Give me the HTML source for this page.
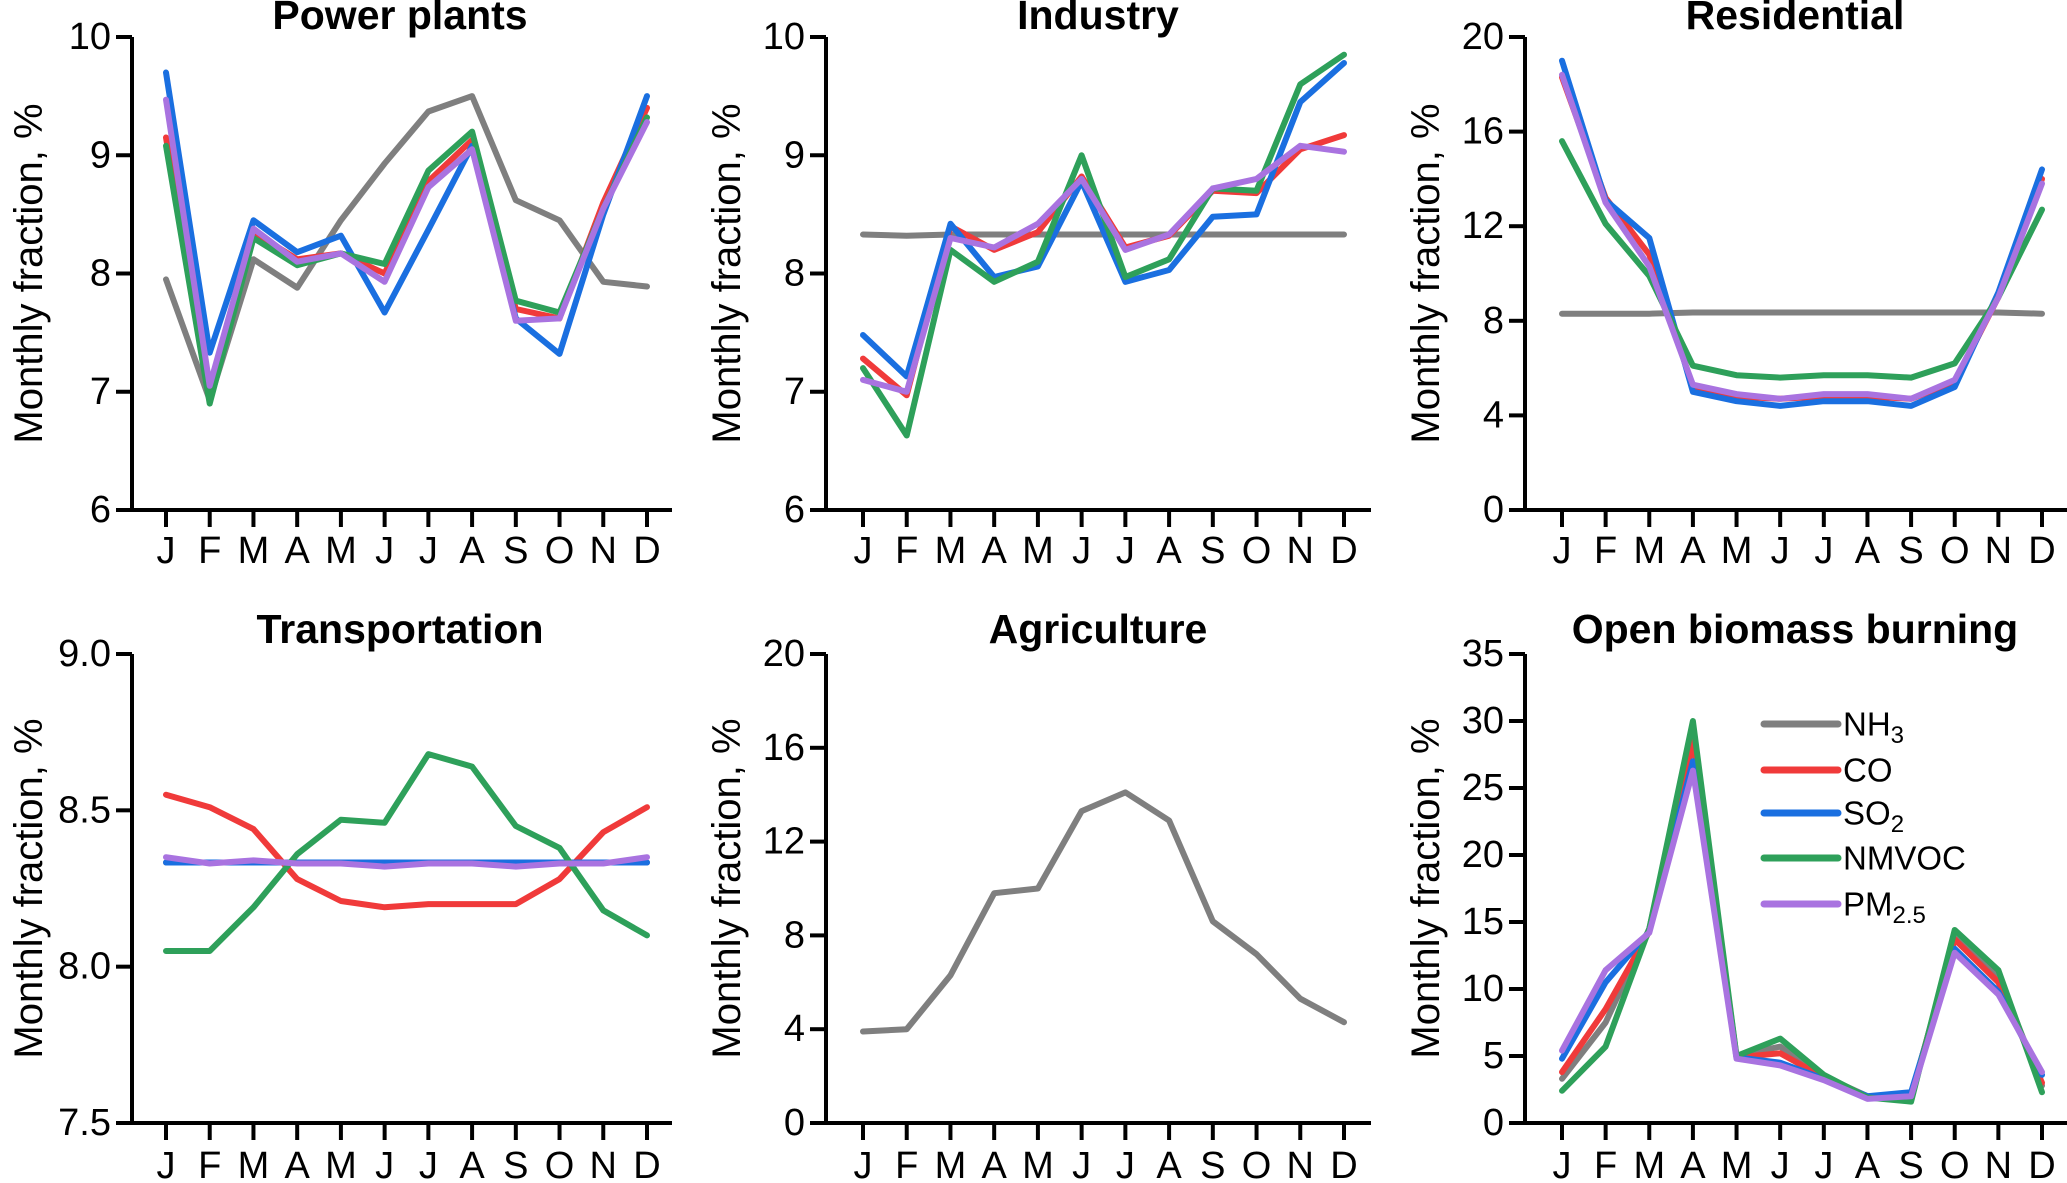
<!DOCTYPE html>
<html><head><meta charset="utf-8">
<style>
html,body{margin:0;padding:0;background:#fff;}
svg{display:block;font-family:"Liberation Sans",Arial,sans-serif;}
</style></head>
<body>
<svg id="fig" width="2067" height="1183" viewBox="0 0 2067 1183"></svg>
<script>
const months = ["J","F","M","A","M","J","J","A","S","O","N","D"];
const speciesNames = ["NH3","CO","SO2","NMVOC","PM2.5"];
const speciesColors = ["#7f7f7f","#f03a3a","#1a6fe0","#2ea05a","#a973e0"];

const powerNH3 = [7.95,6.93,8.12,7.88,8.45,8.93,9.37,9.5,8.62,8.45,7.93,7.89];
const powerCO = [9.15,6.95,8.35,8.12,8.17,8.0,8.78,9.13,7.7,7.62,8.6,9.4];
const powerSO2 = [9.7,7.33,8.45,8.18,8.32,7.67,8.37,9.08,7.62,7.32,8.5,9.5];
const powerNMVOC = [9.08,6.9,8.3,8.07,8.17,8.08,8.87,9.2,7.77,7.67,8.55,9.32];
const powerPM = [9.47,7.05,8.38,8.1,8.17,7.93,8.73,9.05,7.6,7.62,8.55,9.28];

const industryNH3 = [8.33,8.32,8.33,8.33,8.33,8.33,8.33,8.33,8.33,8.33,8.33,8.33];
const industryCO = [7.28,6.97,8.4,8.2,8.35,8.82,8.22,8.32,8.7,8.68,9.05,9.17];
const industrySO2 = [7.48,7.13,8.42,7.97,8.06,8.78,7.93,8.03,8.48,8.5,9.45,9.78];
const industryNMVOC = [7.2,6.63,8.2,7.93,8.1,9.0,7.97,8.12,8.72,8.7,9.6,9.85];
const industryPM = [7.1,7.0,8.3,8.22,8.42,8.8,8.2,8.33,8.72,8.8,9.08,9.03];

const resNH3 = [8.3,8.3,8.3,8.35,8.35,8.35,8.35,8.35,8.35,8.35,8.35,8.3];
const resCO = [18.3,13.2,10.8,5.2,4.8,4.7,4.8,4.8,4.7,5.4,9.0,14.0];
const resSO2 = [19.0,13.1,11.5,5.0,4.6,4.4,4.6,4.6,4.4,5.2,9.2,14.4];
const resNMVOC = [15.6,12.1,9.9,6.1,5.7,5.6,5.7,5.7,5.6,6.2,9.0,12.7];
const resPM = [18.4,13.0,10.3,5.3,4.9,4.7,4.9,4.9,4.7,5.5,9.0,13.8];

const transNH3 = [8.333,8.333,8.333,8.333,8.333,8.333,8.333,8.333,8.333,8.333,8.333,8.333];
const transCO = [8.55,8.51,8.44,8.28,8.21,8.19,8.2,8.2,8.2,8.28,8.43,8.51];
const transSO2 = [8.333,8.333,8.333,8.333,8.333,8.333,8.333,8.333,8.333,8.333,8.333,8.333];
const transNMVOC = [8.05,8.05,8.19,8.36,8.47,8.46,8.68,8.64,8.45,8.38,8.18,8.1];
const transPM = [8.35,8.33,8.34,8.33,8.33,8.32,8.33,8.33,8.32,8.33,8.33,8.35];

const agriNH3 = [3.9,4.0,6.3,9.8,10.0,13.3,14.1,12.9,8.6,7.2,5.3,4.3];

const fireNH3 = [3.3,7.5,14.5,29,5.0,5.7,3.5,2.0,2.0,13.8,11.0,2.8];
const fireCO = [3.8,8.5,14.3,28.5,4.9,5.2,3.4,1.9,2.0,13.7,10.5,3.0];
const fireSO2 = [4.8,10.5,14.3,27,4.9,4.5,3.3,2.0,2.3,13.0,9.8,3.6];
const fireNMVOC = [2.4,5.7,14.5,30,5.0,6.3,3.6,1.9,1.6,14.4,11.4,2.3];
const firePM = [5.4,11.4,14.2,26.3,4.8,4.3,3.2,1.8,2.0,12.7,9.6,3.8];

const powerTicks = ["6","7","8","9","10"];
const industryTicks = ["6","7","8","9","10"];
const resTicks = ["0","4","8","12","16","20"];
const transTicks = ["7.5","8.0","8.5","9.0"];
const agriTicks = ["0","4","8","12","16","20"];
const fireTicks = ["0","5","10","15","20","25","30","35"];

const panels = [
  {name:"power-plants",title:"Power plants",col:0,row:0,ticks:powerTicks,series:[powerNH3,powerCO,powerSO2,powerNMVOC,powerPM]},
  {name:"industry",title:"Industry",col:1,row:0,ticks:industryTicks,series:[industryNH3,industryCO,industrySO2,industryNMVOC,industryPM]},
  {name:"residential",title:"Residential",col:2,row:0,ticks:resTicks,series:[resNH3,resCO,resSO2,resNMVOC,resPM]},
  {name:"transportation",title:"Transportation",col:0,row:1,ticks:transTicks,series:[transNH3,transCO,transSO2,transNMVOC,transPM]},
  {name:"agriculture",title:"Agriculture",col:1,row:1,ticks:agriTicks,series:[agriNH3,null,null,null,null]},
  {name:"open-biomass-burning",title:"Open biomass burning",col:2,row:1,ticks:fireTicks,series:[fireNH3,fireCO,fireSO2,fireNMVOC,firePM],legend:true}
];

const NS="http://www.w3.org/2000/svg";
const svg=document.getElementById('fig');
function mk(tag,attrs,parent){const e=document.createElementNS(NS,tag);for(const k in attrs)e.setAttribute(k,attrs[k]);(parent||svg).appendChild(e);return e;}

const colAxisX=[132,826,1525], colJ=[166,863,1562], colD=[647,1344,2042], colRight=[672,1371,2067];
const rowTop=[37,654], rowBot=[510,1123], rowLab=[551,1166], rowTitle=[16,630];
const titleX=[400,1098,1795], yTitleX=[29,727,1426];

panels.forEach(p=>{
  const g=mk('g',{});
  
  
  const ax=colAxisX[p.col], top=rowTop[p.row], bot=rowBot[p.row];
  const tv=p.ticks.map(Number), vmin=tv[0], vmax=tv[tv.length-1];
  const ys=v=>bot-(v-vmin)/(vmax-vmin)*(bot-top);
  const xs=i=>colJ[p.col]+i*(colD[p.col]-colJ[p.col])/11;
  const t=mk('text',{x:titleX[p.col],y:rowTitle[p.row]+13,'text-anchor':'middle','font-size':41,'font-weight':'bold',fill:'#000'},g);
  t.textContent=p.title;
  
  
  const cy=(top+bot)/2;
  const yt=mk('text',{x:yTitleX[p.col],y:cy,'text-anchor':'middle','dominant-baseline':'central','font-size':40,fill:'#000',transform:`rotate(-90 ${yTitleX[p.col]} ${cy})`},g);
  yt.textContent='Monthly fraction, %';
  
  
  const yAxis=mk('line',{x1:ax,y1:top,x2:ax,y2:bot+2,stroke:'#000','stroke-width':4},g);
  
  
  const xAxis=mk('line',{x1:ax-16,y1:bot,x2:colRight[p.col],y2:bot,stroke:'#000','stroke-width':4},g);
  
  
  p.ticks.forEach(lbl=>{
    const y=ys(Number(lbl));
    mk('line',{x1:ax-16,y1:y,x2:ax,y2:y,stroke:'#000','stroke-width':4},g);
    const tt=mk('text',{x:ax-21,y:y,'text-anchor':'end','dominant-baseline':'central','font-size':38,fill:'#000'},g);
    tt.textContent=lbl;
    
    
  });
  months.forEach((m,i)=>{
    const x=xs(i);
    mk('line',{x1:x,y1:bot,x2:x,y2:bot+17,stroke:'#000','stroke-width':4},g);
    const tt=mk('text',{x:x,y:rowLab[p.row],'text-anchor':'middle','dominant-baseline':'central','font-size':38,fill:'#000'},g);
    tt.textContent=m;
    
    
  });
  p.series.forEach((s,k)=>{
    if(!s)return;
    const pts=s.map((v,i)=>xs(i).toFixed(1)+','+ys(v).toFixed(1)).join(' ');
    const pl=mk('polyline',{points:pts,fill:'none',stroke:speciesColors[k],'stroke-width':6,'stroke-linejoin':'round','stroke-linecap':'round'},g);
    
    
  });
  if(p.legend){
    const lg=mk('g',{},g);
    
    
    const ly=[724,770,813,858,904];
    const labels=[['NH','3'],['CO',''],['SO','2'],['NMVOC',''],['PM','2.5']];
    labels.forEach((l,k)=>{
      const e=mk('g',{},lg);
      
      
      mk('line',{x1:1764,y1:ly[k],x2:1838,y2:ly[k],stroke:speciesColors[k],'stroke-width':7,'stroke-linecap':'round'},e);
      const tx=mk('text',{x:1843,y:ly[k],'dominant-baseline':'central','font-size':33,fill:'#000'},e);
      tx.appendChild(document.createTextNode(l[0]));
      if(l[1]){const ts=document.createElementNS(NS,'tspan');ts.setAttribute('font-size','24');ts.setAttribute('dy','11');ts.textContent=l[1];tx.appendChild(ts);}
    });
  }
});
</script>
</body></html>
